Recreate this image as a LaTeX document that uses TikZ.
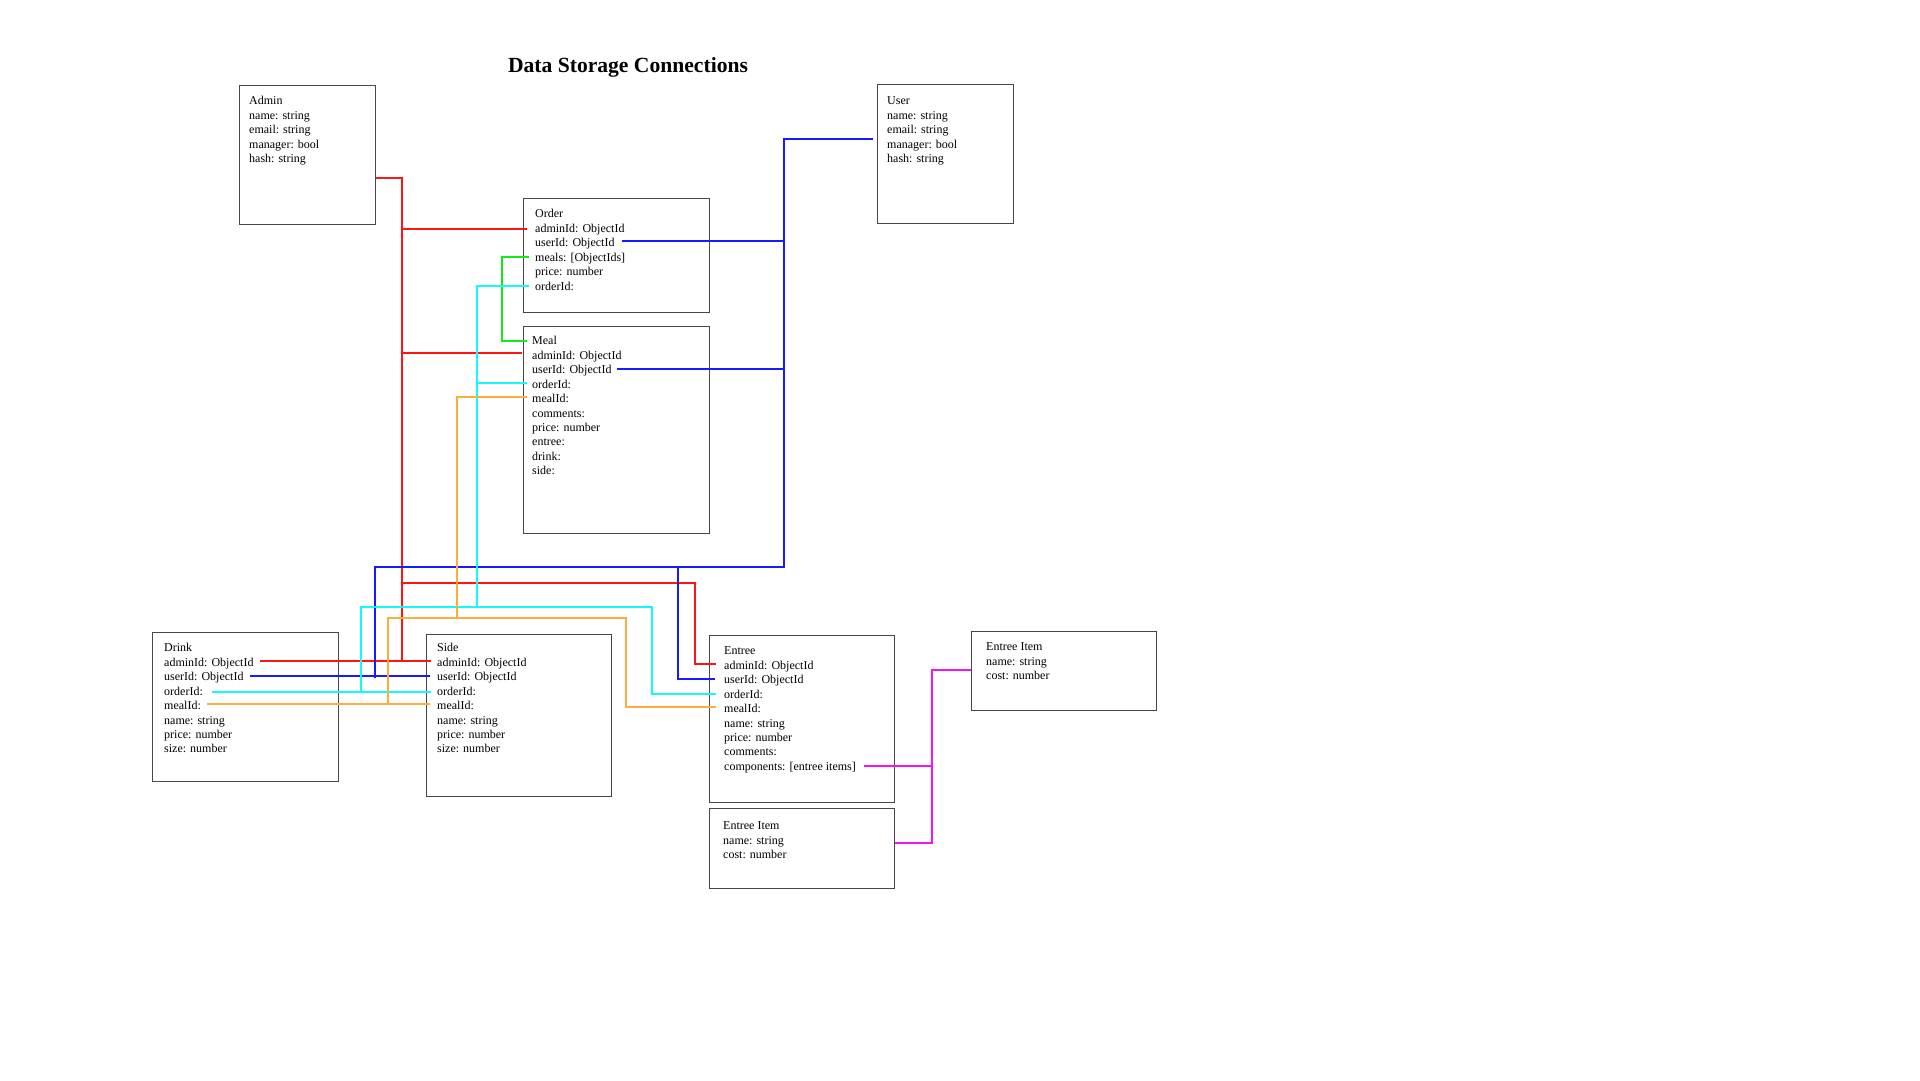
\documentclass[tikz,border=0pt]{standalone}
\usepackage{fontspec}
\setmainfont{Liberation Serif}
\definecolor{cred}{RGB}{255,20,20}
\definecolor{cblue}{RGB}{25,25,255}
\definecolor{ccyan}{RGB}{20,250,250}
\definecolor{cgreen}{RGB}{20,235,20}
\definecolor{corange}{RGB}{255,172,60}
\definecolor{cmag}{RGB}{245,20,245}
\tikzset{
  box/.style={draw=black!72, line width=1.3pt, anchor=north west, inner sep=0pt},
  fld/.style={anchor=base west, inner sep=0pt, font=\fontsize{12}{14.45}\selectfont},
  conn/.style={line width=2pt},
}
\newcommand\fieldlines[4]{%
  \foreach \t [count=\i] in {#4} {
    \node[fld] (#1-\i) at (#2, {#3+1.3+14.45*(\i-1)}) {\t};
  }%
}
\begin{document}
\begin{tikzpicture}[x=1pt,y=-1pt]
\useasboundingbox[fill=white] (0,0) rectangle (1920,1080);

% title
\node[anchor=base, inner sep=0pt, font=\bfseries\fontsize{21.6}{26}\selectfont] (title) at (628,72) {Data Storage Connections};

% boxes
\node[box, minimum width=136pt, minimum height=139pt] (admin) at (239,85) {};
\node[box, minimum width=136pt, minimum height=139pt] (user) at (877,84) {};
\node[box, minimum width=186pt, minimum height=114pt] (order) at (523,198) {};
\node[box, minimum width=186pt, minimum height=207pt] (meal) at (523,326) {};
\node[box, minimum width=186pt, minimum height=149pt] (drink) at (152,632) {};
\node[box, minimum width=185pt, minimum height=162pt] (side) at (426,634) {};
\node[box, minimum width=185pt, minimum height=167pt] (entree) at (709,635) {};
\node[box, minimum width=185pt, minimum height=79pt] (itemR) at (971,631) {};
\node[box, minimum width=185pt, minimum height=80pt] (itemL) at (709,808) {};

% texts
\fieldlines{ta}{249}{103.5}{Admin,name: string,email: string,manager: bool,hash: string}
\fieldlines{tu}{887}{103.5}{User,name: string,email: string,manager: bool,hash: string}
\fieldlines{to}{535}{216.5}{Order,adminId: ObjectId,userId: ObjectId,meals: [ObjectIds],price: number,orderId:}
\fieldlines{tm}{532}{343.5}{Meal,adminId: ObjectId,userId: ObjectId,orderId:,mealId:,comments:,price: number,entree:,drink:,side:}
\fieldlines{td}{164}{650.5}{Drink,adminId: ObjectId,userId: ObjectId,orderId:,mealId:,name: string,price: number,size: number}
\fieldlines{ts}{437}{650.5}{Side,adminId: ObjectId,userId: ObjectId,orderId:,mealId:,name: string,price: number,size: number}
\fieldlines{te}{724}{653.5}{Entree,adminId: ObjectId,userId: ObjectId,orderId:,mealId:,name: string,price: number,comments:,components: [entree items]}
\fieldlines{tr}{986}{649.5}{Entree Item,name: string,cost: number}
\fieldlines{tl}{723}{828.5}{Entree Item,name: string,cost: number}

% endpoint coordinates
\coordinate (oAdm) at (527,229);
\coordinate (mAdm) at (522,353);
\coordinate (eAdm) at (716,664);
\coordinate (dAdm) at (260,661);
\coordinate (sAdm) at (431,661);
\coordinate (oUsr) at (622,241);
\coordinate (mUsr) at (617,369);
\coordinate (eUsr) at (715,679);
\coordinate (dUsr) at (250,676);
\coordinate (sUsr) at (430,676);
\coordinate (uL) at (873,139);
\coordinate (oMeals) at (529,257);
\coordinate (mTitle) at (527,341);
\coordinate (oOrd) at (529,286);
\coordinate (mOrd) at (527,383);
\coordinate (eOrd) at (716,694);
\coordinate (dOrd) at (212,692);
\coordinate (sOrd) at (431,692);
\coordinate (mMeal) at (527,397);
\coordinate (eMeal) at (716,707);
\coordinate (dMeal) at (207,704);
\coordinate (sMeal) at (430,704);
\coordinate (eComp) at (864,766);

% red
\draw[conn, cred] (admin.east |- 0,178) -- (402,178) -- (402,661);
\draw[conn, cred] (402,229) -- (oAdm);
\draw[conn, cred] (402,353) -- (mAdm);
\draw[conn, cred] (402,583) -- (695,583) -- (695,664) -- (eAdm);
\draw[conn, cred] (dAdm) -- (sAdm);

% blue
\draw[conn, cblue] (uL) -- (784,139) -- (784,567) -- (375,567) -- (375,678);
\draw[conn, cblue] (oUsr) -- (784,241);
\draw[conn, cblue] (mUsr) -- (784,369);
\draw[conn, cblue] (678,567) -- (678,679) -- (eUsr);
\draw[conn, cblue] (dUsr) -- (sUsr);

% green
\draw[conn, cgreen] (oMeals) -- (502,257) -- (502,341) -- (mTitle);

% cyan
\draw[conn, ccyan] (oOrd) -- (477,286) -- (477,607);
\draw[conn, ccyan] (mOrd) -- (477,383);
\draw[conn, ccyan] (361,692) -- (361,607) -- (652,607) -- (652,694) -- (eOrd);
\draw[conn, ccyan] (dOrd) -- (sOrd);

% orange
\draw[conn, corange] (mMeal) -- (457,397) -- (457,618);
\draw[conn, corange] (388,704) -- (388,618) -- (626,618) -- (626,707) -- (eMeal);
\draw[conn, corange] (dMeal) -- (sMeal);

% magenta
\draw[conn, cmag] (eComp) -- (932,766);
\draw[conn, cmag] (itemR.west |- 0,670) -- (932,670) -- (932,843) -- (itemL.east |- 0,843);
\end{tikzpicture}
\end{document}
